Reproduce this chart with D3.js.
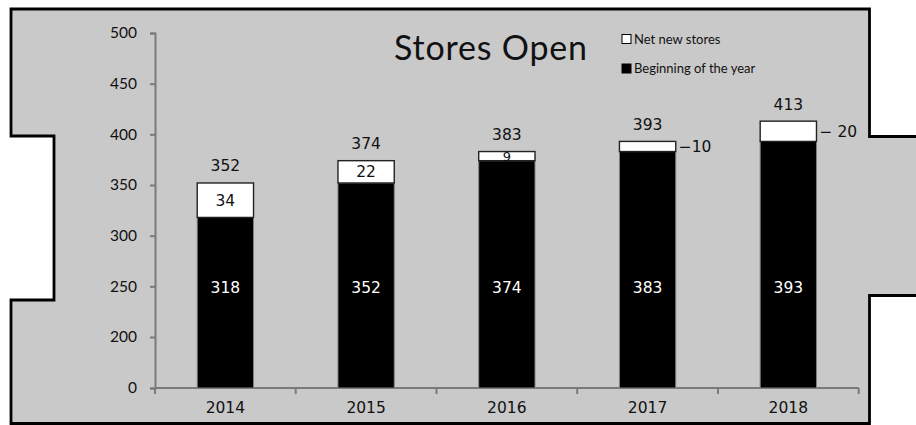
<!DOCTYPE html>
<html>
<head>
<meta charset="utf-8">
<script src="https://cdn.jsdelivr.net/npm/d3@7"></script>
<style>
    body { margin: 0; background: #fff; }
    svg { display: block; }
</style>
</head>
<body>
<svg id="chart" width="916" height="425"></svg>
<script>
// chart data
var years = ["2014", "2015", "2016", "2017", "2018"];
var beginning = [318, 352, 374, 383, 393];
var netNew = [34, 22, 9, 10, 20];
var yTicks = [0, 200, 250, 300, 350, 400, 450, 500];
// small net values are written beside the bar instead of inside
var outsideLabel = [false, false, false, true, true];

var svg = d3.select("#chart");

// grey backdrop with notches on both sides
var frame = [[11, 9], [869.5, 9], [869.5, 136.5], [920, 136.5], [920, 295.5], [869.5, 295.5],
    [869.5, 423.5], [11, 423.5], [11, 300], [54, 300], [54, 136], [11, 136]];
svg.append("path")
    .attr("d", d3.line()(frame) + "Z")
    .attr("fill", "#c9c9c9")
    .attr("stroke", "#000")
    .attr("stroke-width", 2.8);

// broken axis: 0..200 squeezed into one step
var y = d3.scaleLinear()
    .domain([0, 200, 500])
    .range([388, 337, 33]);

var x = d3.scaleBand()
    .domain(years)
    .range([155, 858.7])
    .paddingInner(0.6)
    .paddingOuter(0.3);

var rows = years.map(function(d, i) {
    return { year: d, begin: beginning[i], net: netNew[i], total: beginning[i] + netNew[i], outside: outsideLabel[i] };
});

// axes
var yAxis = svg.append("g")
    .attr("transform", "translate(155,0)")
    .call(d3.axisLeft(y).tickValues(yTicks).tickSize(5).tickPadding(13));
yAxis.select(".domain").attr("stroke", "#7a7a7a").attr("stroke-width", 2);
yAxis.selectAll(".tick line").attr("stroke", "#7a7a7a").attr("stroke-width", 2);
yAxis.selectAll(".tick text")
    .attr("font-family", "Lato, sans-serif")
    .attr("font-size", 15.5)
    .attr("fill", "#111");

// x axis with ticks between the categories
var xAxisG = svg.append("g").attr("transform", "translate(0,388)");
xAxisG.append("line")
    .attr("x1", 155).attr("x2", 858.7)
    .attr("stroke", "#7a7a7a").attr("stroke-width", 2);
var bounds = [155].concat(years.map(function(d) { return x(d) + x.bandwidth() + x.step() * 0.3; }));
xAxisG.selectAll("line.sep")
    .data(bounds)
    .enter().append("line")
    .attr("class", "sep")
    .attr("x1", function(d) { return d; })
    .attr("x2", function(d) { return d; })
    .attr("y1", 0).attr("y2", 6)
    .attr("stroke", "#7a7a7a").attr("stroke-width", 2);
xAxisG.selectAll("text")
    .data(years)
    .enter().append("text")
    .attr("x", function(d) { return x(d) + x.bandwidth() / 2; })
    .attr("y", 20)
    .attr("dy", "0.35em")
    .attr("text-anchor", "middle")
    .attr("font-family", "DejaVu Sans, sans-serif")
    .attr("font-size", 15.5)
    .attr("fill", "#111")
    .text(function(d) { return d; });

// stacked bars
var bars = svg.append("g").selectAll("g")
    .data(rows)
    .enter().append("g");

bars.append("rect")
    .attr("x", function(d) { return x(d.year); })
    .attr("width", x.bandwidth())
    .attr("y", function(d) { return y(d.begin); })
    .attr("height", function(d) { return y(0) - y(d.begin); })
    .attr("fill", "#000")
    .attr("stroke", "#808080")
    .attr("stroke-width", 1);

bars.append("rect")
    .attr("x", function(d) { return x(d.year); })
    .attr("width", x.bandwidth())
    .attr("y", function(d) { return y(d.total); })
    .attr("height", function(d) { return y(d.begin) - y(d.total); })
    .attr("fill", "#fff")
    .attr("stroke", "#222")
    .attr("stroke-width", 1.4);

var labelFont = "DejaVu Sans, sans-serif";

// beginning-of-year labels, all on one line
bars.append("text")
    .attr("x", function(d) { return x(d.year) + x.bandwidth() / 2; })
    .attr("y", y(250) + 1.5)
    .attr("dy", "0.35em")
    .attr("text-anchor", "middle")
    .attr("font-family", labelFont)
    .attr("font-size", 15.5)
    .attr("fill", "#fff")
    .text(function(d) { return d.begin; });

// net new labels
bars.append("text")
    .attr("x", function(d) { return d.outside ? x(d.year) + x.bandwidth() + 3 : x(d.year) + x.bandwidth() / 2; })
    .attr("y", function(d) { return (y(d.begin) + y(d.total)) / 2; })
    .attr("dy", "0.35em")
    .attr("text-anchor", function(d) { return d.outside ? "start" : "middle"; })
    .attr("font-family", labelFont)
    .attr("font-size", function(d) { return d.net < 10 ? 13 : 15.5; })
    .attr("fill", "#111")
    .text(function(d) { return d.outside ? "\u2212" + (d.net >= 20 ? " " : "") + d.net : d.net; });

// totals above the bars
bars.append("text")
    .attr("x", function(d) { return x(d.year) + x.bandwidth() / 2; })
    .attr("y", function(d) { return y(d.total) - 17; })
    .attr("dy", "0.35em")
    .attr("text-anchor", "middle")
    .attr("font-family", labelFont)
    .attr("font-size", 15.5)
    .attr("fill", "#111")
    .text(function(d) { return d.total; });

// title
svg.append("text")
    .attr("x", 491)
    .attr("y", 48)
    .attr("dy", "0.35em")
    .attr("text-anchor", "middle")
    .attr("font-family", "Lato, sans-serif")
    .attr("font-size", 34)
    .attr("letter-spacing", 0.8)
    .attr("fill", "#111")
    .text("Stores Open");

// legend
var legendItems = [
    { name: "Net new stores", fill: "#fff" },
    { name: "Beginning of the year", fill: "#000" }
];
var legend = svg.append("g").selectAll("g")
    .data(legendItems)
    .enter().append("g")
    .attr("transform", function(d, i) { return "translate(622," + (39 + i * 29.5) + ")"; });
legend.append("rect")
    .attr("x", 0).attr("y", -4.5)
    .attr("width", 9).attr("height", 9)
    .attr("fill", function(d) { return d.fill; })
    .attr("stroke", "#000")
    .attr("stroke-width", 1);
legend.append("text")
    .attr("x", 12)
    .attr("dy", "0.35em")
    .attr("font-family", "Lato, sans-serif")
    .attr("font-size", 13)
    .attr("fill", "#111")
    .text(function(d) { return d.name; });
</script>
</body>
</html>
